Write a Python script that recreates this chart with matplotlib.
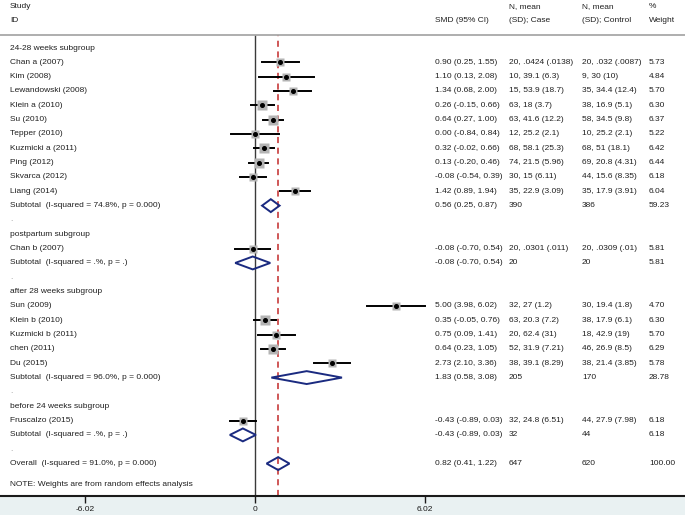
import numpy as np
import matplotlib
matplotlib.use("Agg")
import matplotlib.pyplot as plt
from matplotlib.patches import Polygon, Rectangle

plt.rcParams["font.family"] = ["Liberation Sans", "DejaVu Sans"]

# ---- data ----
groups = ["24-28 weeks subgroup", "postpartum subgroup",
          "after 28 weeks subgroup", "before 24 weeks subgroup"]
group_of = [0] * 10 + [1] + [2] * 5 + [3]
study_ids = ["Chan a (2007)", "Kim (2008)", "Lewandowski (2008)", "Klein a (2010)",
             "Su (2010)", "Tepper (2010)", "Kuzmicki a (2011)", "Ping (2012)",
             "Skvarca (2012)", "Liang (2014)",
             "Chan b (2007)",
             "Sun (2009)", "Klein b (2010)", "Kuzmicki b (2011)", "chen (2011)", "Du (2015)",
             "Fruscalzo (2015)"]
smd = [0.90, 1.10, 1.34, 0.26, 0.64, 0.00, 0.32, 0.13, -0.08, 1.42,
       -0.08,
       5.00, 0.35, 0.75, 0.64, 2.73,
       -0.43]
ci_lo = [0.25, 0.13, 0.68, -0.15, 0.27, -0.84, -0.02, -0.20, -0.54, 0.89,
         -0.70,
         3.98, -0.05, 0.09, 0.23, 2.10,
         -0.89]
ci_hi = [1.55, 2.08, 2.00, 0.66, 1.00, 0.84, 0.66, 0.46, 0.39, 1.94,
         0.54,
         6.02, 0.76, 1.41, 1.05, 3.36,
         0.03]
case_txt = ["20, .0424 (.0138)", "10, 39.1 (6.3)", "15, 53.9 (18.7)", "63, 18 (3.7)",
            "63, 41.6 (12.2)", "12, 25.2 (2.1)", "68, 58.1 (25.3)", "74, 21.5 (5.96)",
            "30, 15 (6.11)", "35, 22.9 (3.09)",
            "20, .0301 (.011)",
            "32, 27 (1.2)", "63, 20.3 (7.2)", "20, 62.4 (31)", "52, 31.9 (7.21)",
            "38, 39.1 (8.29)",
            "32, 24.8 (6.51)"]
ctrl_txt = ["20, .032 (.0087)", "9, 30 (10)", "35, 34.4 (12.4)", "38, 16.9 (5.1)",
            "58, 34.5 (9.8)", "10, 25.2 (2.1)", "68, 51 (18.1)", "69, 20.8 (4.31)",
            "44, 15.6 (8.35)", "35, 17.9 (3.91)",
            "20, .0309 (.01)",
            "30, 19.4 (1.8)", "38, 17.9 (6.1)", "18, 42.9 (19)", "46, 26.9 (8.5)",
            "38, 21.4 (3.85)",
            "44, 27.9 (7.98)"]
weights = [5.73, 4.84, 5.70, 6.30, 6.37, 5.22, 6.42, 6.44, 6.18, 6.04,
           5.81,
           4.70, 6.30, 5.70, 6.29, 5.78,
           6.18]

sub_i2 = ["74.8%", ".%", "96.0%", ".%"]
sub_p = ["0.000", ".", "0.000", "."]
sub_smd = [0.56, -0.08, 1.83, -0.43]
sub_lo = [0.25, -0.70, 0.58, -0.89]
sub_hi = [0.87, 0.54, 3.08, 0.03]
sub_case = [390, 20, 205, 32]
sub_ctrl = [386, 20, 170, 44]
sub_w = [59.23, 5.81, 28.78, 6.18]

overall_smd, overall_lo, overall_hi = 0.82, 0.41, 1.22
overall_case, overall_ctrl, overall_w = 647, 620, 100.00
overall_i2, overall_p = "91.0%", "0.000"

x_ticks = [-6.02, 0, 6.02]

# ---- layout (pixels of the 685x515 reference) ----
W, H = 685, 515
row0_px, row_h = 48.0, 14.33
top_px, axis_px = 35.0, 496.0
zero_px, ppu = 255.0, 170.0 / 6.02
col_x = [10 / W, 435 / W, 509 / W, 582 / W, 649 / W]
fs = 6.0
txt_col = "#202020"
diamond_col = "#1a2a80"

fig = plt.figure(figsize=(W / 100, H / 100), dpi=100)
fig.patches.append(Rectangle((0, 0), 1, (H - axis_px) / H, transform=fig.transFigure,
                             color="#e9f1f2", zorder=-1))
ax = fig.add_axes([0, (H - axis_px) / H, 1, (axis_px - top_px) / H])
ax.set_xlim(-zero_px / ppu, (W - zero_px) / ppu)
ax.set_ylim((axis_px - row0_px) / row_h, (top_px - row0_px) / row_h)
tr = ax.get_yaxis_transform()


def put(col, y, s, **kw):
    ax.text(col_x[col], y, s, transform=tr, fontsize=fs, color=txt_col,
            va="center", ha="left", clip_on=False, **kw)


# header
y_h1, y_h2 = (7 - row0_px) / row_h, (21 - row0_px) / row_h
put(0, y_h1, "Study"); put(0, y_h2, "ID")
put(1, y_h2, "SMD (95% CI)")
put(2, y_h1, "N, mean"); put(2, y_h2, "(SD); Case")
put(3, y_h1, "N, mean"); put(3, y_h2, "(SD); Control")
put(4, y_h1, "%"); put(4, y_h2, "Weight")


def ci_text(m, lo, hi):
    return f"{m:.2f} ({lo:.2f}, {hi:.2f})"


def diamond(m, lo, hi, y):
    ax.add_patch(Polygon([[lo, y], [m, y - 0.45], [hi, y], [m, y + 0.45]], closed=True,
                         fill=False, ec=diamond_col, lw=1.4, zorder=4))


row = 0
for g, gname in enumerate(groups):
    put(0, row, gname)
    row += 1
    for i in [k for k, gg in enumerate(group_of) if gg == g]:
        ax.plot([ci_lo[i], ci_hi[i]], [row, row], color="k", lw=1.4, zorder=3)
        ax.plot(smd[i], row, marker="s", ms=np.sqrt(weights[i]) * 2.6,
                color="#b4b4b4", mec="none", zorder=4)
        ax.plot(smd[i], row, marker="o", ms=2.6, color="k", zorder=5)
        put(0, row, study_ids[i])
        put(1, row, ci_text(smd[i], ci_lo[i], ci_hi[i]))
        put(2, row, case_txt[i])
        put(3, row, ctrl_txt[i])
        put(4, row, f"{weights[i]:.2f}")
        row += 1
    diamond(sub_smd[g], sub_lo[g], sub_hi[g], row)
    put(0, row, f"Subtotal  (I-squared = {sub_i2[g]}, p = {sub_p[g]})")
    put(1, row, ci_text(sub_smd[g], sub_lo[g], sub_hi[g]))
    put(2, row, str(sub_case[g]))
    put(3, row, str(sub_ctrl[g]))
    put(4, row, f"{sub_w[g]:.2f}")
    row += 1
    put(0, row, ".", alpha=0.5)
    row += 1

diamond(overall_smd, overall_lo, overall_hi, row)
put(0, row, f"Overall  (I-squared = {overall_i2}, p = {overall_p})")
put(1, row, ci_text(overall_smd, overall_lo, overall_hi))
put(2, row, str(overall_case))
put(3, row, str(overall_ctrl))
put(4, row, f"{overall_w:.2f}")
put(0, row + 1.45, "NOTE: Weights are from random effects analysis")

ax.axvline(0, color="#3a3a3a", lw=1.0, zorder=2)
ax.axvline(overall_smd, color="#c22a2a", lw=1.1, ls=(0, (4, 3)), zorder=2)

for s in ["left", "right"]:
    ax.spines[s].set_visible(False)
ax.spines["top"].set_color("#a8a8a8")
ax.spines["top"].set_linewidth(1.3)
ax.spines["bottom"].set_color("#1a1a1a")
ax.spines["bottom"].set_linewidth(1.5)
ax.set_yticks([])
ax.set_xticks(x_ticks)
ax.set_xticklabels(["-6.02", "0", "6.02"])
ax.tick_params(axis="x", length=5, width=1, labelsize=fs, pad=2, colors="#1a1a1a")

fig.savefig("out.png", dpi=100)
